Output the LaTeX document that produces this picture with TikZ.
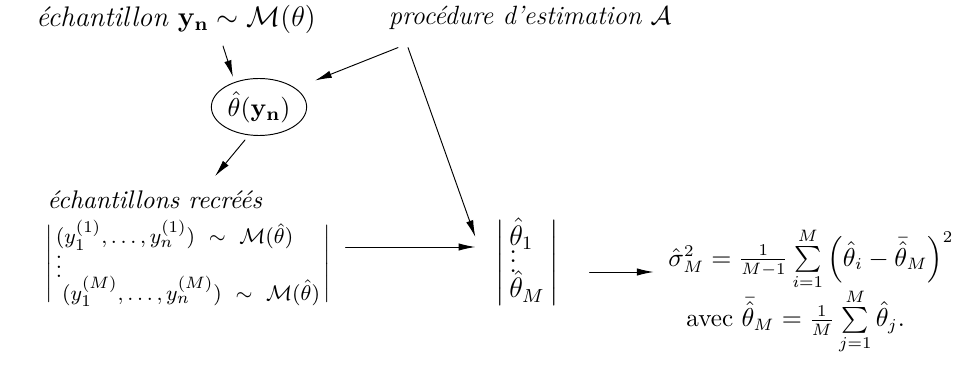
\documentclass[tikz,border=0pt]{standalone}
\usepackage{amsmath}
\usetikzlibrary{arrows.meta, calc, shapes.geometric}

\begin{document}
\begin{tikzpicture}[
        x=0.0149cm, y=-0.0149cm,
        line cap=round, line join=round,
        arr/.style={-{Latex[length=2.5mm, width=1.1mm]}, thin},
        lbl/.style={inner sep=1pt},
        sz/.style={font=\fontsize{#1}{\dimexpr#1pt*6/5\relax}\selectfont},
        bars/.style={execute at begin node={\delimiterfactor=810 \delimitershortfall=30pt}}
    ]
    \useasboundingbox (0,0) rectangle (974,371);
    \node[lbl, sz=12] (ech) at (176,19) {\textit{échantillon} $\mathbf{y_n}\sim\mathcal{M}(\theta)$};
    \node[lbl, sz=11.2] (proc) at (530,18) {\textit{procédure d'estimation} $\mathcal{A}$};
    \node[draw, ellipse, sz=11, minimum width=95*0.0149cm, minimum height=57*0.0149cm, inner sep=1pt] (est) at (259,107) {$\hat{\theta}(\mathbf{y_n})$};
    \node[lbl, sz=10.8] (recr) at (155,200) {\textit{échantillons recréés}};
    \node[lbl, bars, sz=9.3] (samples) at (188,264) {\setlength{\arraycolsep}{1.5pt}$\left|\begin{array}{l}
        (y_1^{(1)},\ldots,y_n^{(1)})\ \sim\ \mathcal{M}(\hat{\theta})\\[-4pt]
        \vdots\\[-4pt]
        \;(y_1^{(M)},\ldots,y_n^{(M)})\ \sim\ \mathcal{M}(\hat{\theta})
    \end{array}\right|$};
    \node[lbl, bars, sz=12] (thetas) at (527,263) {\setlength{\arraycolsep}{2pt}$\left|\begin{array}{l}
        \hat{\theta}_1\\[-8pt]
        \vdots\\[-5pt]
        \hat{\theta}_M
    \end{array}\right|$};
    \node[lbl, sz=10.65, align=center] (var) at (811,291) {$\hat{\sigma}^2_M = \frac{1}{M-1}\sum\limits_{i=1}^{M}\left(\hat{\theta}_i-\bar{\hat{\theta}}_M\right)^2$\\[-2pt]
        avec $\bar{\hat{\theta}}_M = \frac{1}{M}\sum\limits_{j=1}^{M}\hat{\theta}_j$.\hspace*{13pt}};
    % connectors
    \draw[arr] ($(ech.south)+(47,10)$) -- ($(est.north)+(-26,-1)$);
    \draw[arr] ($(proc.south west)+(12,15)$) -- ($(est.north east)+(22,-6)$);
    \draw[arr] ($(proc.south west)+(22,15)$) -- ($(thetas.west)+(-17,-26)$);
    \draw[arr] ($(est.south)+(-14,4)$) -- ($(recr.north)+(60,-12)$);
    \draw[arr] ($(samples.east)+(12,-17)$) -- ($(thetas.west)+(-17,-16)$);
    \draw[arr] ($(thetas.east)+(28,9)$) -- ($(var.west)+(-12,-19)$);
\end{tikzpicture}
\end{document}
